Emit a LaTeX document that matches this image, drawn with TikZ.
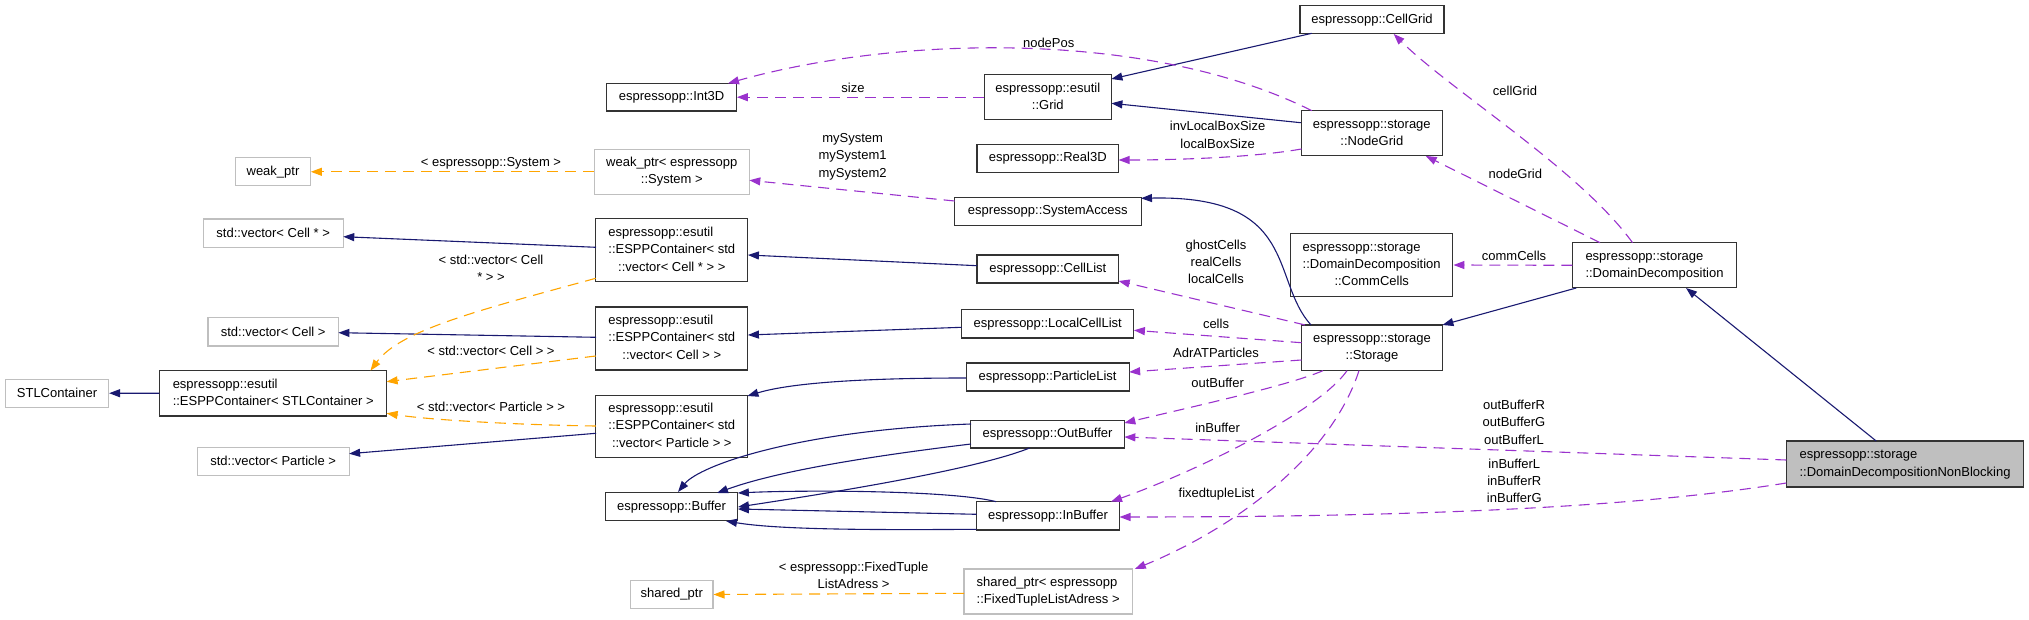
\documentclass[tikz,border=0pt]{standalone}
\usepackage{fontspec}
\newfontfamily\dfont{Liberation Sans}
\usetikzlibrary{arrows.meta,calc}
\definecolor{dblue}{HTML}{191970}
\definecolor{dpurple}{HTML}{9A32CD}
\definecolor{dorange}{HTML}{FFA500}
\definecolor{nodegray}{HTML}{BFBFBF}
\definecolor{borderc}{HTML}{333333}
\newcommand\TwoL[2]{\begin{tabular}{@{}l@{}}#1\\\multicolumn{1}{@{}c@{}}{#2}\end{tabular}}
\newcommand\ThreeL[3]{\begin{tabular}{@{}l@{}}#1\\#2\\\multicolumn{1}{@{}c@{}}{#3}\end{tabular}}
\tikzset{
  dfnt/.style={font=\dfont\fontsize{13}{17.3}\selectfont},
  cls/.style={dfnt, draw=borderc, fill=white, line width=1.1pt, inner sep=0pt},
  ext/.style={cls, draw=nodegray},
  inh/.style={draw=dblue, line width=1.1pt, -{Triangle[length=11pt,width=8pt]}},
  use/.style={draw=dpurple, line width=1.1pt, dash pattern=on 11pt off 7pt, -{Triangle[length=11pt,width=8pt]}},
  tmpl/.style={draw=dorange, line width=1.1pt, dash pattern=on 11pt off 7pt, -{Triangle[length=11pt,width=8pt]}},
  lbl/.style={dfnt, align=center, inner sep=0pt}
}
\begin{document}
\begin{tikzpicture}[x=1pt,y=-1pt]
\useasboundingbox (0,0) rectangle (2029,620);
% nodes
\node[cls, fill=nodegray, minimum width=237.4, minimum height=46] (ddnb) at (1905,464) {\TwoL{espressopp::storage}{::DomainDecompositionNonBlocking}};
\node[cls, minimum width=163.4, minimum height=45.3] (dd) at (1654.5,265.3) {\TwoL{espressopp::storage}{::DomainDecomposition}};
\node[cls, minimum width=144, minimum height=28.3] (cellgrid) at (1372,19.8) {espressopp::CellGrid};
\node[cls, minimum width=140.5, minimum height=45.3] (nodegrid) at (1371.8,133.3) {\TwoL{espressopp::storage}{::NodeGrid}};
\node[cls, minimum width=162.4, minimum height=62.6] (commcells) at (1371.7,265) {\ThreeL{espressopp::storage}{::DomainDecomposition}{::CommCells}};
\node[cls, minimum width=141, minimum height=45.7] (storage) at (1372,347.8) {\TwoL{espressopp::storage}{::Storage}};
\node[cls, minimum width=127.2, minimum height=45] (grid) at (1047.8,97.2) {\TwoL{espressopp::esutil}{::Grid}};
\node[cls, minimum width=129.6, minimum height=27.7] (int3d) at (671.6,97.2) {espressopp::Int3D};
\node[cls, minimum width=141.6, minimum height=28.4] (real3d) at (1047.8,158.5) {espressopp::Real3D};
\node[cls, minimum width=186.5, minimum height=28] (sysacc) at (1047.8,211.7) {espressopp::SystemAccess};
\node[cls, minimum width=141.6, minimum height=28] (celllist) at (1047.8,269) {espressopp::CellList};
\node[cls, minimum width=172.2, minimum height=28.3] (localcelllist) at (1047.8,323.8) {espressopp::LocalCellList};
\node[cls, minimum width=163.1, minimum height=28] (particlelist) at (1047.6,377) {espressopp::ParticleList};
\node[cls, minimum width=153.5, minimum height=27.3] (outbuffer) at (1047.6,434.3) {espressopp::OutBuffer};
\node[cls, minimum width=143, minimum height=28.3] (inbuffer) at (1048,515.8) {espressopp::InBuffer};
\node[ext, minimum width=168.4, minimum height=45] (sptrftla) at (1048.2,591.5) {\TwoL{shared\_ptr< espressopp}{::FixedTupleListAdress >}};
\node[ext, minimum width=155, minimum height=45] (wptrsys) at (671.8,171.8) {\TwoL{weak\_ptr< espressopp}{::System >}};
\node[cls, minimum width=152.1, minimum height=62.7] (esppcellp) at (671.8,250.3) {\ThreeL{espressopp::esutil}{::ESPPContainer< std}{::vector< Cell * > >}};
\node[cls, minimum width=152.1, minimum height=63] (esppcell) at (671.8,338.5) {\ThreeL{espressopp::esutil}{::ESPPContainer< std}{::vector< Cell > >}};
\node[cls, minimum width=152.1, minimum height=62.4] (espppart) at (671.8,426.5) {\ThreeL{espressopp::esutil}{::ESPPContainer< std}{::vector< Particle > >}};
\node[cls, minimum width=132.5, minimum height=28] (buffer) at (671.6,506.7) {espressopp::Buffer};
\node[ext, minimum width=82.3, minimum height=28.4] (sharedptr) at (671.8,594.5) {shared\_ptr};
\node[ext, minimum width=74.6, minimum height=28.3] (weakptr) at (273,171.8) {weak\_ptr};
\node[ext, minimum width=140.2, minimum height=28.3] (veccellp) at (273.2,233.2) {std::vector< Cell * >};
\node[ext, minimum width=130.4, minimum height=28.3] (veccell) at (273.2,331.8) {std::vector< Cell >};
\node[cls, minimum width=226.8, minimum height=45.3] (esppstl) at (273.2,393.3) {\TwoL{espressopp::esutil}{::ESPPContainer< STLContainer >}};
\node[ext, minimum width=151.8, minimum height=28.3] (vecpart) at (273.2,461.2) {std::vector< Particle >};
\node[ext, minimum width=103.1, minimum height=28.3] (stl) at (57,393.2) {STLContainer};

% inheritance edges
\draw[inh] ($(ddnb)+(-28.8,-23)$) -- ($(dd)+(31.5,22.7)$);
\draw[inh] ($(dd)+(-78.3,22.7)$) -- ($(storage)+(70.4,-22.8)$);
\draw[inh] ($(storage)+(-61,-22.8)$) .. controls (1270,280) and (1300,195) .. ($(sysacc)+(93.2,-13.4)$);
\draw[inh] ($(cellgrid)+(-60.2,13.5)$) -- ($(grid)+(63.6,-18.2)$);
\draw[inh] ($(nodegrid)+(-71,-10.6)$) -- ($(grid)+(63.6,6.1)$);
\draw[inh] ($(celllist)+(-70.8,-3.3)$) -- ($(esppcellp)+(76.1,4.7)$);
\draw[inh] ($(localcelllist)+(-86.1,3.5)$) -- ($(esppcell)+(76.1,-3.5)$);
\draw[inh] ($(particlelist)+(-81.6,1)$) .. controls (900,378) and (800,380) .. ($(espppart)+(75.6,-30.5)$);
\draw[inh] ($(esppcellp)+(-75.8,-3)$) -- ($(veccellp)+(70.1,3.5)$);
\draw[inh] ($(esppcell)+(-75.8,-1.2)$) -- ($(veccell)+(65.2,0.9)$);
\draw[inh] ($(espppart)+(-75.8,6.8)$) -- ($(vecpart)+(75.9,-7.5)$);
\draw[inh] (esppstl.west) -- (stl.east);
\draw[inh] ($(outbuffer)+(-76.6,-10.3)$) .. controls (800,430) and (700,465) .. ($(buffer)+(6.4,-14.7)$);
\draw[inh] ($(outbuffer)+(-76.6,9.7)$) .. controls (880,455) and (780,470) .. ($(buffer)+(45.4,-13.7)$);
\draw[inh] ($(outbuffer)+(-18,13.7)$) .. controls (980,468) and (850,490) .. ($(buffer)+(66.4,0.3)$);
\draw[inh] ($(inbuffer)+(-51.9,-14.15)$) .. controls (950,490) and (800,490) .. ($(buffer)+(66.25,-13.7)$);
\draw[inh] ($(inbuffer)+(-71.5,-1.5)$) -- ($(buffer)+(66.25,2.3)$);
\draw[inh] ($(inbuffer)+(-71.5,13.5)$) .. controls (880,530) and (780,530) .. ($(buffer)+(54.4,14.3)$);

% usage edges
\draw[use] (grid.west) -- (int3d.east);
\draw[use] ($(nodegrid)+(-60,-22.65)$) .. controls (1150,30) and (900,35) .. ($(int3d)+(56.4,-13.85)$);
\draw[use] ($(nodegrid)+(-70.25,15.7)$) .. controls (1250,158) and (1170,160) .. ($(real3d)+(70.8,1.5)$);
\draw[use] ($(dd)+(-22,-22.65)$) .. controls (1580,170) and (1450,90) .. ($(cellgrid)+(21.7,14.15)$);
\draw[use] ($(dd)+(-54.5,-22.65)$) -- ($(nodegrid)+(53.9,22.65)$);
\draw[use] (dd.west) -- (commcells.east);
\draw[use] ($(sysacc)+(-93.25,-10.7)$) -- ($(wptrsys)+(77.5,8.5)$);
\draw[use] ($(storage)+(-67,-22.85)$) -- ($(celllist)+(70.8,12)$);
\draw[use] ($(storage)+(-70.5,-5.1)$) -- ($(localcelllist)+(86.1,6.5)$);
\draw[use] ($(storage)+(-70.5,12.2)$) -- ($(particlelist)+(81.55,-5)$);
\draw[use] ($(storage)+(-49,22.85)$) .. controls (1290,385) and (1200,405) .. ($(outbuffer)+(76.75,-11.3)$);
\draw[use] ($(storage)+(-25,22.85)$) .. controls (1320,410) and (1200,470) .. ($(inbuffer)+(63,-14.15)$);
\draw[use] ($(storage)+(-13,22.85)$) .. controls (1330,460) and (1230,530) .. ($(sptrftla)+(86.6,-22.5)$);
\draw[use] ($(ddnb)+(-118.7,-4)$) -- ($(outbuffer)+(76.75,2.7)$);
\draw[use] ($(ddnb)+(-118.7,19)$) .. controls (1650,505) and (1450,517) .. ($(inbuffer)+(71.5,1.2)$);

% template edges
\draw[tmpl] (wptrsys.west) -- (weakptr.east);
\draw[tmpl] ($(esppcellp)+(-76.05,28)$) .. controls (480,310) and (400,330) .. ($(esppstl)+(97.3,-22.65)$);
\draw[tmpl] ($(esppcell)+(-76.05,17.5)$) -- ($(esppstl)+(113.4,-11.6)$);
\draw[tmpl] ($(espppart)+(-76.05,-0.5)$) .. controls (520,425) and (430,420) .. ($(esppstl)+(113.4,20)$);
\draw[tmpl] ($(sptrftla)+(-84.2,1.8)$) -- (sharedptr.east);

% labels
\node[lbl] (lsize) at (853,87.7) {size};
\node[lbl] (lnodepos) at (1048.7,42.7) {nodePos};
\node[lbl] (lbox) at (1217.6,135) {invLocalBoxSize\\localBoxSize};
\node[lbl] (lcellgrid) at (1515,91.3) {cellGrid};
\node[lbl] (lnodegrid) at (1515.3,174.3) {nodeGrid};
\node[lbl] (lcomm) at (1514,256) {commCells};
\node[lbl] (lsys) at (852.6,156.8) {mySystem\\mySystem1\\mySystem2};
\node[lbl] (lcells3) at (1216,262) {ghostCells\\realCells\\localCells};
\node[lbl] (lcells) at (1216,323.7) {cells};
\node[lbl] (ladr) at (1216,352.7) {AdrATParticles};
\node[lbl] (lout) at (1217.6,383.3) {outBuffer};
\node[lbl] (lin) at (1217.6,428) {inBuffer};
\node[lbl] (lftl) at (1216.6,494) {fixedtupleList};
\node[lbl] (loutrgl) at (1514,422.2) {outBufferR\\outBufferG\\outBufferL};
\node[lbl] (linlrg) at (1514.3,480.8) {inBufferL\\inBufferR\\inBufferG};
\node[lbl] (lsystem) at (491,163) {< espressopp::System >};
\node[lbl] (lcellp) at (491,268.2) {< std::vector< Cell\\* > >};
\node[lbl] (lcell) at (491,350.7) {< std::vector< Cell > >};
\node[lbl] (lpart) at (491,406.7) {< std::vector< Particle > >};
\node[lbl] (lftla) at (853.6,575.2) {< espressopp::FixedTuple\\ListAdress >};
\end{tikzpicture}
\end{document}
